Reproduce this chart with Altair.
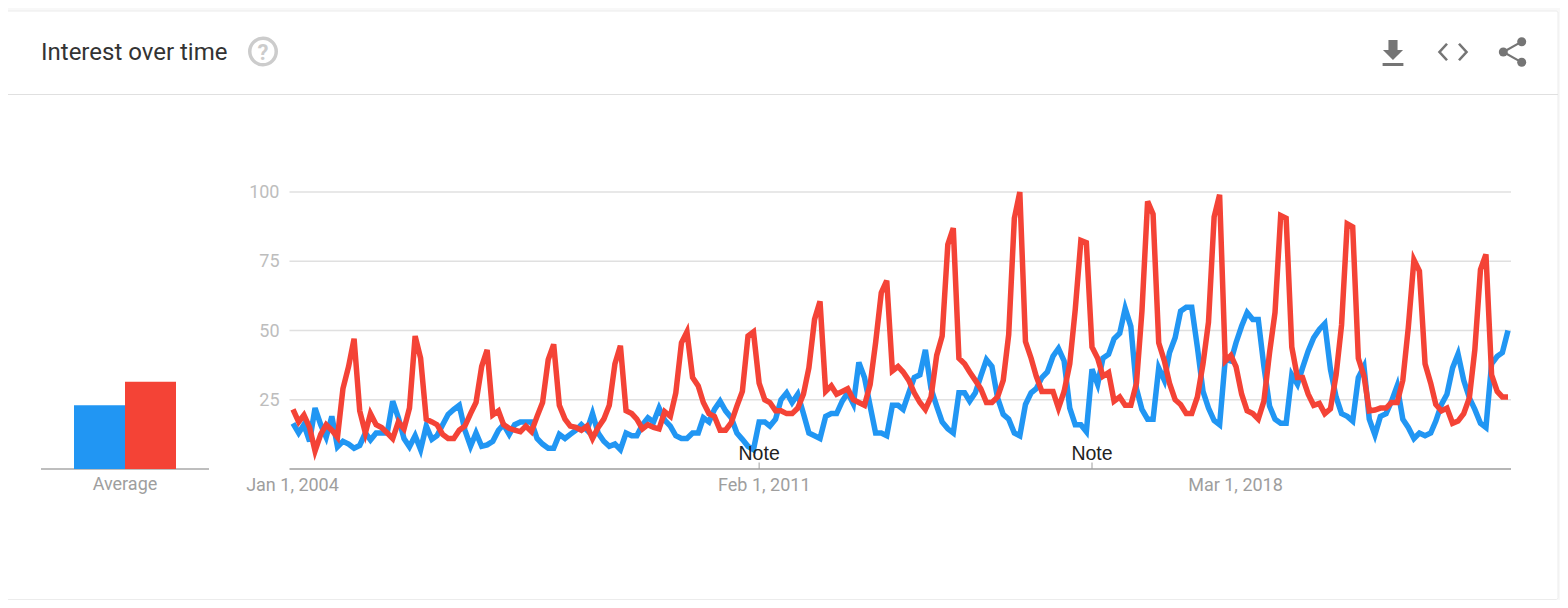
import altair as alt
import pandas as pd

terms = ["Term A", "Term B"]
averages = [23, 31.5]
y_ticks = [25, 50, 75, 100]
note_dates = ["2011-01-01T00:00:00", "2016-01-01T00:00:00"]
blue = [16.5,13,16,10,22,16,11.5,19,8,10,9,7.5,8.5,13,10.5,13,13,13,24.5,18.5,11,8,12,7,15.5,10.7,12,16,19.7,21.5,23,14,8.2,13,8.2,8.7,10,14,16,12.5,16,17,17,17,11,9,7.5,7.5,12.5,11,12.5,14,16,14,
20,13,10,8.2,9,7,13,12,12,16,18.5,17,22,17.6,15.5,12,11,11,13,13,18.5,17,21.5,24.5,21,18.5,13,10.7,8.2,7,17,17,15.5,18,25,27.5,24,27,20,13,12,11,19,20,20,24.5,27.5,23.5,38.5,33,22.7,13,13,12,23,23,
21.5,27.5,33,34,43,29,22.7,17,14.5,13,27.5,27.5,24.5,27.5,33.5,39.5,37,25.7,19.7,18,13,12,23.3,27.5,29,33,35,40.7,43.5,39,22,16,16,13.5,36,30.6,40,41.4,47,49,58,51.5,29,21.5,18,18,36.5,32,42,47.4,57,58.4,58.4,44,
28,22,17.5,16,39.6,39,45.6,51.6,56.5,54,54,37,22.7,18,16.5,16.5,34,30.6,36.5,42.6,47.4,50.4,52.5,36,26,20,19,17.3,33,37,18,12.3,19,20,24.5,30,18,15,11,13,12,13,17.3,23.3,27,36.5,41.5,32,25.7,21.5,16.5,15,38,40.7,42,50]
red = [21.5,17,19.5,15,6.5,12.5,16,14,11.5,29,37,47,21,13,20,16,15,13,11,17,14.5,22,48,40,18,17,16,12.5,11,11,14,15.5,20,24,37,43,19.5,21,16,14.7,14,13.5,15.5,13.5,19,24,39.5,45,23,18,15.5,15,14,15.5,
11,15,18,23,38,44.5,21,20,18,14.5,16,15,14.5,20.7,19,27.5,45.6,49.5,33,30,24,20,19,14,14,16.7,22.7,28,48,49.5,31,25,24,21,21,20,20,22,27,36.5,54,60.5,28,30,27,28,29,25,24,23,30.5,45.6,63.6,68,35.4,37,
35,32,27.5,24,21.5,26,41,48,81,87,40,38,35,32,29,24,24,26,32,48.5,90.5,100,46,40,33.5,28,28,28,22,28,38,57.5,82.5,81.7,44,40,33.5,34.8,24.5,26,23,23,31,57,96.6,92,45.6,39,31,25,23.3,20,20,26,
38,53,91,99,39,41,37,27,21,20,18,24.5,42,56.5,91.5,90.5,44,33,33,27,23,23.7,20,21.7,34,52,88.5,87.4,40,33.5,21,21.3,22,22,24,24,32,51,75.5,71.5,38,31,23.3,21,22,16.5,17.3,20,25.7,43,72,77.5,34,28,26,26]
months = pd.date_range("2004-01-01", periods=len(blue), freq="MS")

BLUE, RED = "#2196f3", "#f44336"
one = pd.DataFrame({"a": [0]})
xs = alt.Scale(domain=["2004-01-01T00:00:00", "2022-04-01T00:00:00"], range=[285, 1500])
ys = alt.Scale(domain=[0, 100], range=[461, 184])
series = pd.DataFrame({"month": months, "blue": blue, "red": red})

def v(n):
    return alt.value(n)

base = alt.Chart(one)
card = base.mark_rect(fill="white", stroke="#ececec", cornerRadius=2).encode(x=v(-3), x2=v(1550), y=v(3), y2=v(591.5))
sep = base.mark_rule(color="#e0e0e0", strokeWidth=1).encode(x=v(0), x2=v(1550), y=v(86.5))
title = base.mark_text(text="Interest over time", font="Roboto", fontSize=24, color="#333333", align="left", baseline="alphabetic").encode(x=v(33), y=v(52))
help_c = base.mark_point(shape="circle", size=702, filled=False, stroke="#cccccc", strokeWidth=3.5, opacity=1).encode(x=v(255), y=v(43.5))
help_t = base.mark_text(text="?", font="Roboto", fontWeight="bold", fontSize=22, color="#cccccc", align="center", baseline="alphabetic").encode(x=v(255), y=v(51.5))

ICON = "#757575"
dl = base.mark_point(shape="M-.35 -1H.35V-.23H.77L0 .54L-.77 -.23H-.35Z M-.8 .77H.8V1H-.8Z", size=676, filled=True, fill=ICON, stroke=None, opacity=1).encode(x=v(1385), y=v(45))
code = base.mark_point(shape="M-.4 -.55L-.9 0L-.4 .55 M.4 -.55L.9 0L.4 .55", size=900, filled=False, stroke=ICON, strokeWidth=2.6, opacity=1).encode(x=v(1445), y=v(44))
share_l = base.mark_point(shape="M.65 -.69L-.58 0L.65 .69", size=900, filled=False, stroke=ICON, strokeWidth=2.2, opacity=1).encode(x=v(1504), y=v(44))
share_a = base.mark_circle(size=81, color=ICON, opacity=1).encode(x=v(1513.7), y=v(33.7))
share_b = base.mark_circle(size=81, color=ICON, opacity=1).encode(x=v(1495.3), y=v(44))
share_c = base.mark_circle(size=81, color=ICON, opacity=1).encode(x=v(1513.7), y=v(54.3))

grid = alt.Chart(pd.DataFrame({"t": y_ticks})).mark_rule(color="#e0e0e0", strokeWidth=1.3).encode(
    y=alt.Y("t:Q", scale=ys, axis=None), x=v(281.5), x2=v(1503))
baseline = base.mark_rule(color="#9e9e9e", strokeWidth=1.3).encode(x=v(281.5), x2=v(1503), y=v(461))
base_bar = base.mark_rule(color="#a8a8a8", strokeWidth=1.3).encode(x=v(33), x2=v(201), y=v(461))

bars = alt.Chart(pd.DataFrame({"term": terms, "avg": averages})).mark_bar(binSpacing=0).encode(
    x=alt.X("term:N", scale=alt.Scale(domain=terms, range=[66, 168], paddingInner=0, paddingOuter=0), axis=None),
    y=alt.Y("avg:Q", scale=ys, axis=None),
    color=alt.Color("term:N", scale=alt.Scale(domain=terms, range=[BLUE, RED]), legend=None))
avg_t = base.mark_text(text="Average", font="Roboto", fontSize=18, color="#9e9e9e", align="center", baseline="alphabetic").encode(x=v(117), y=v(482))

x_axis = alt.Axis(values=[alt.DateTime(year=2004, month=1, date=1), alt.DateTime(year=2011, month=2, date=1), alt.DateTime(year=2018, month=3, date=1)],
    format="%b %-d, %Y", domain=False, ticks=False, grid=False, title=None, labelFont="Roboto", labelFontSize=18, labelColor="#9e9e9e",
    labelPadding=7, offset=-131, zindex=1, labelOverlap=False, labelFlush=False, labelOffset=-1)
y_axis = alt.Axis(values=y_ticks, domain=False, ticks=False, grid=False, title=None, labelFont="Roboto", labelFontSize=18, labelColor="#bdbdbd",
    labelPadding=0, offset=-271, zindex=1, labelOffset=0.5)

line_blue = alt.Chart(series).mark_line(color=BLUE, strokeWidth=5.5, strokeJoin="miter").encode(
    x=alt.X("month:T", scale=xs, axis=x_axis), y=alt.Y("blue:Q", scale=ys, axis=y_axis))
line_red = alt.Chart(series).mark_line(color=RED, strokeWidth=5.5, strokeJoin="miter").encode(
    x=alt.X("month:T", scale=xs, axis=None), y=alt.Y("red:Q", scale=ys, axis=None))

notes = pd.DataFrame({"d": note_dates})
note_tick = alt.Chart(notes).mark_rule(color="#9e9e9e", strokeWidth=1).encode(
    x=alt.X("d:T", scale=xs, axis=None), y=v(454.5), y2=v(461))
note_text = alt.Chart(notes).mark_text(text="Note", font="Liberation Sans", fontSize=19.5, color="#222222", align="center", baseline="alphabetic").encode(
    x=alt.X("d:T", scale=xs, axis=None), y=v(451.5))

chart = alt.layer(card, sep, title, help_c, help_t, dl, code, share_l, share_a, share_b, share_c,
                  grid, baseline, base_bar, bars, avg_t, line_blue, line_red, note_tick, note_text).resolve_scale(
    x="independent", y="independent", color="independent"
).properties(width=1552, height=592, padding=0, background="#f8f8f8",
             autosize=alt.AutoSizeParams(type="none")).configure_view(stroke=None)

chart.save("out.html", embed_options={"renderer": "svg", "actions": False})
